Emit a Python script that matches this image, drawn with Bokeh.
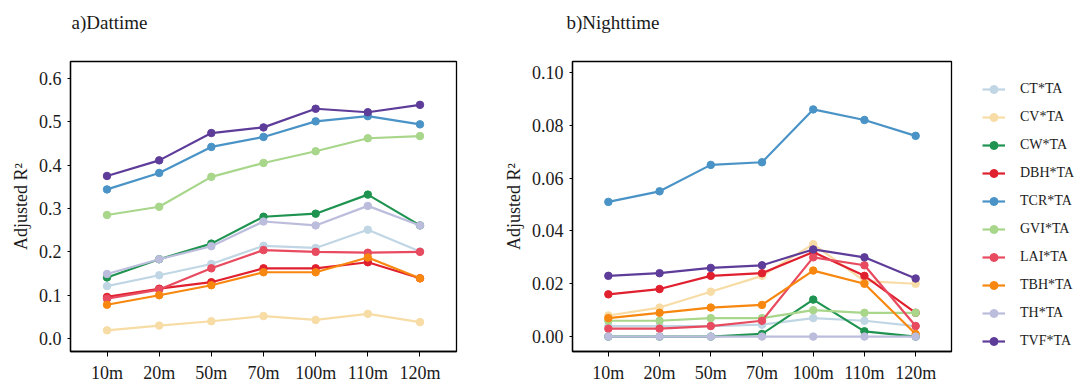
from bokeh.plotting import figure
from bokeh.layouts import row
from bokeh.models import (Range1d, FactorRange, FixedTicker, NumeralTickFormatter,
                          Legend, LegendItem, Title)
from bokeh.embed import file_html
from bokeh.resources import INLINE

heights = ["10m", "20m", "50m", "70m", "100m", "110m", "120m"]

labels = ["CT*TA", "CV*TA", "CW*TA", "DBH*TA", "TCR*TA",
          "GVI*TA", "LAI*TA", "TBH*TA", "TH*TA", "TVF*TA"]
colors = ["#c0d6e4", "#f7dca5", "#1f9350", "#e0202f", "#4a93c6",
          "#a8d68a", "#e84a5f", "#f7870f", "#bcbddc", "#5e3c99"]

# a) Daytime
day_CT = [0.121, 0.146, 0.172, 0.214, 0.209, 0.251, 0.201]
day_CV = [0.019, 0.030, 0.040, 0.052, 0.043, 0.057, 0.038]
day_CW = [0.141, 0.183, 0.219, 0.281, 0.288, 0.332, 0.261]
day_DBH = [0.096, 0.115, 0.130, 0.162, 0.162, 0.176, 0.139]
day_TCR = [0.344, 0.382, 0.442, 0.465, 0.501, 0.513, 0.494]
day_GVI = [0.285, 0.304, 0.373, 0.405, 0.432, 0.462, 0.467]
day_LAI = [0.092, 0.113, 0.162, 0.204, 0.200, 0.198, 0.200]
day_TBH = [0.078, 0.100, 0.123, 0.153, 0.153, 0.187, 0.139]
day_TH = [0.149, 0.183, 0.213, 0.270, 0.261, 0.306, 0.261]
day_TVF = [0.375, 0.411, 0.474, 0.487, 0.530, 0.522, 0.539]

# b) Nighttime
night_CT = [0.004, 0.004, 0.004, 0.0045, 0.007, 0.006, 0.004]
night_CV = [0.008, 0.011, 0.017, 0.023, 0.035, 0.021, 0.020]
night_CW = [0.000, 0.000, 0.000, 0.001, 0.014, 0.002, 0.000]
night_DBH = [0.016, 0.018, 0.023, 0.024, 0.032, 0.023, 0.009]
night_TCR = [0.051, 0.055, 0.065, 0.066, 0.086, 0.082, 0.076]
night_GVI = [0.006, 0.006, 0.007, 0.007, 0.010, 0.009, 0.009]
night_LAI = [0.003, 0.003, 0.004, 0.006, 0.030, 0.027, 0.004]
night_TBH = [0.007, 0.009, 0.011, 0.012, 0.025, 0.020, 0.001]
night_TH = [0.000, 0.000, 0.000, 0.000, 0.000, 0.000, 0.000]
night_TVF = [0.023, 0.024, 0.026, 0.027, 0.033, 0.030, 0.022]

day_ticks = [0.0, 0.1, 0.2, 0.3, 0.4, 0.5, 0.6]
night_ticks = [0.00, 0.02, 0.04, 0.06, 0.08, 0.10]

day_series = [day_CT, day_CV, day_CW, day_DBH, day_TCR,
              day_GVI, day_LAI, day_TBH, day_TH, day_TVF]
night_series = [night_CT, night_CV, night_CW, night_DBH, night_TCR,
                night_GVI, night_LAI, night_TBH, night_TH, night_TVF]

FONT = "Liberation Serif"


def make_fig(title, series, yrange, ticks, fmt, width, bl, br, toff):
    p = figure(width=width, height=385, output_backend="svg", toolbar_location=None,
               x_range=FactorRange(*heights, range_padding=0.2, range_padding_units="absolute"),
               y_range=Range1d(*yrange),
               min_border_left=bl, min_border_right=br, min_border_top=61, min_border_bottom=32)
    # real title (outermost)
    p.title.text = title
    p.title.text_font = FONT
    p.title.text_font_style = "normal"
    p.title.text_font_size = "19px"
    p.title.text_color = "#1a1a1a"
    p.title.align = "left"
    p.title.offset = toff
    p.title.standoff = 0
    # invisible spacer between the title and the frame
    p.add_layout(Title(text=" ", text_font_size="2px", standoff=25), "above")
    p.xgrid.visible = False
    p.ygrid.visible = False
    p.outline_line_color = "black"
    p.outline_line_width = 1.3
    p.yaxis.ticker = FixedTicker(ticks=ticks)
    p.yaxis.formatter = NumeralTickFormatter(format=fmt)
    p.yaxis.axis_label = "Adjusted R²"
    for ax in (p.xaxis, p.yaxis):
        ax.axis_line_color = "black"
        ax.axis_line_width = 1.3
        ax.major_tick_line_color = "black"
        ax.major_tick_in = 0
        ax.minor_tick_line_color = None
        ax.major_label_text_font = FONT
        ax.major_label_text_font_size = "18px"
        ax.major_label_text_color = "#1a1a1a"
        ax.axis_label_text_font = FONT
        ax.axis_label_text_font_style = "normal"
        ax.axis_label_text_font_size = "18px"
        ax.axis_label_text_color = "#1a1a1a"
    p.xaxis.major_tick_out = 5
    p.yaxis.major_tick_out = 3
    p.xaxis.major_label_standoff = 6
    p.yaxis.major_label_standoff = 6
    p.yaxis.axis_label_standoff = 5
    for vals, c in zip(series, colors):
        p.line(heights, vals, line_color=c, line_width=2.2)
        p.scatter(heights, vals, size=7.5, color=c)
    return p


p1 = make_fig("a)Dattime", day_series, (-0.0298, 0.639), day_ticks, "0.0",
              500, 70, 44, 1)
p2 = make_fig("b)Nighttime", night_series, (-0.00564, 0.10414), night_ticks, "0.00",
              453, 69, 2, -6)

# legend panel: series drawn outside its visible range, only the legend shows
pl = figure(width=133, height=385, output_backend="svg", toolbar_location=None,
            x_axis_type=None, y_axis_type=None,
            x_range=FactorRange(*heights), y_range=Range1d(10, 11),
            min_border_left=0, min_border_right=0, min_border_top=0, min_border_bottom=0)
pl.outline_line_color = None
pl.xgrid.visible = False
pl.ygrid.visible = False
items = []
for lab, vals, c in zip(labels, night_series, colors):
    lr = pl.line(heights, vals, line_color=c, line_width=2.2)
    sr = pl.scatter(heights, vals, size=7.5, color=c)
    items.append(LegendItem(label=lab, renderers=[lr, sr]))
legend = Legend(items=items, location=(29, 0), padding=0, margin=0,
                spacing=8, glyph_width=23, glyph_height=20, label_height=20,
                label_standoff=15, label_text_font=FONT, label_text_font_size="14px",
                label_text_color="#1a1a1a",
                border_line_alpha=0, background_fill_alpha=0)
pl.add_layout(legend)

layout = row(p1, p2, pl)
open("out.html", "w").write(file_html(layout, INLINE))
